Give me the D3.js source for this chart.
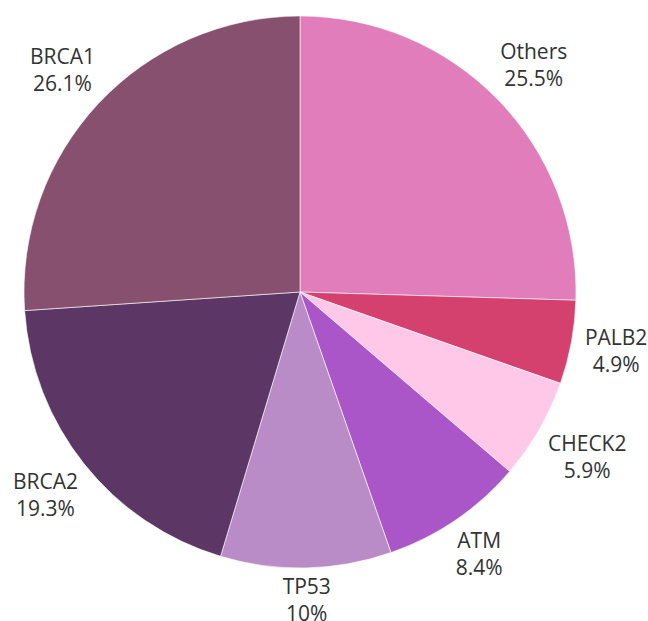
<!DOCTYPE html>
<html>
<head>
<meta charset="utf-8">
<script src="https://cdn.jsdelivr.net/npm/d3@7"></script>
<style>
  html, body { margin: 0; padding: 0; background: #fff; }
  svg { display: block; }
</style>
</head>
<body>
<svg id="chart" width="648" height="621"></svg>
<script>
// Gene share of hereditary breast cancer cases, clockwise from 12 o'clock
const genes = ["Others", "PALB2", "CHECK2", "ATM", "TP53", "BRCA2", "BRCA1"];
const shares = [25.5, 4.9, 5.9, 8.4, 10, 19.3, 26.1];
const shareLabels = ["25.5%", "4.9%", "5.9%", "8.4%", "10%", "19.3%", "26.1%"];
const colors = ["#e07dba", "#d4416e", "#ffc8e8", "#aa55c8", "#b98cc8", "#5c3664", "#86506e"];

const svg = d3.select("#chart");
const cx = 300, cy = 292, radius = 276;
const fontSize = 21, lineGap = 27, capH = 15, labelGap = 11;

const data = genes.map((g, i) => ({ gene: g, value: shares[i], label: shareLabels[i], color: colors[i] }));

const pie = d3.pie().value(d => d.value).sort(null);
const arc = d3.arc().innerRadius(0).outerRadius(radius);

const g = svg.append("g").attr("transform", `translate(${cx},${cy})`);
const arcs = pie(data);

g.selectAll("path.slice")
  .data(arcs)
  .join("path")
  .attr("class", "slice")
  .attr("d", arc)
  .attr("fill", d => d.data.color)
  .attr("stroke", "#fff")
  .attr("stroke-width", 0.6);

const labels = g.selectAll("text.lbl")
  .data(arcs)
  .join("text")
  .attr("class", "lbl")
  .attr("text-anchor", "middle")
  .attr("font-family", "'Open Sans', sans-serif")
  .attr("font-size", fontSize)
  .attr("fill", "#333");

labels.append("tspan").attr("class", "l1").attr("x", 0).attr("y", -6).text(d => d.data.gene);
labels.append("tspan").attr("class", "l2").attr("x", 0).attr("y", lineGap - 6).text(d => d.data.label);

// Push each two-line label out along its slice's mid-angle until the
// label box clears the rim by a fixed gap.
labels.attr("transform", function (d) {
  const w = Math.max(...Array.from(this.querySelectorAll("tspan")).map(t => t.getComputedTextLength()));
  const hw = w / 2, hh = (capH + lineGap) / 2;
  const a = (d.startAngle + d.endAngle) / 2;
  const sx = Math.sin(a), sy = -Math.cos(a);
  const dist = radius + labelGap + hw * Math.abs(sx) + hh * Math.abs(sy);
  return `translate(${dist * sx},${dist * sy})`;
});
</script>
</body>
</html>
